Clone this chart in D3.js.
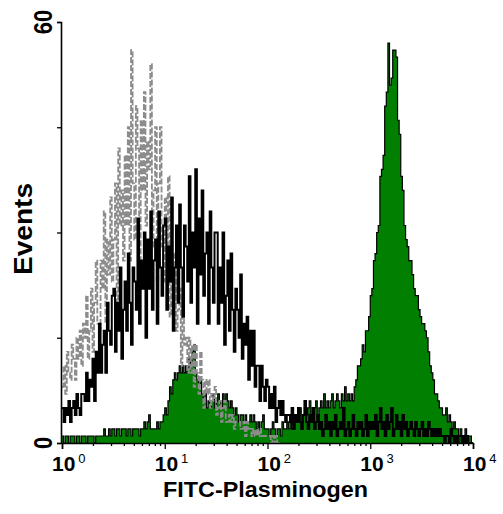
<!DOCTYPE html>
<html>
<head>
<meta charset="utf-8">
<script src="https://cdn.jsdelivr.net/npm/d3@7"></script>
<style>
  html, body { margin: 0; padding: 0; background: #fff; }
  svg { display: block; }
  text { font-family: Arial, "Liberation Sans", Helvetica, sans-serif; }
</style>
</head>
<body>
<svg id="chart" width="503" height="514"></svg>
<script>
// ---- data (counts per channel, 64 channels per decade, 10^0 .. 10^4) ----
const channelsPerDecade = 64;
const decadeTicks = [1, 10, 100, 1000, 10000];
const decadeExponents = ["0", "1", "2", "3", "4"];
const yTickValues = [0, 15, 30, 45, 60];
const yTickLabels = ["0", "", "", "", "60"];
const xAxisTitle = "FITC-Plasminogen";
const yAxisTitle = "Events";

// isotype control (grey dashed)
const isotypeCounts = [
  8,11,7,13,10,9,14,12,9,15,
  12,16,11,17,15,21,12,16,22,13,
  20,26,17,16,26,22,33,17,29,24,
  35,23,29,37,20,42,31,36,26,41,
  31,45,26,56,37,29,48,42,25,46,
  36,50,31,43,39,54,28,36,45,23,
  37,45,28,23,35,27,38,18,27,21,
  27,16,19,22,11,21,14,15,10,15,
  10,14,8,14,10,7,13,9,5,9,
  7,9,5,7,6,8,4,5,6,3,
  5,6,3,3,4,3,4,2,3,3,
  3,2,2,3,1,3,2,2,1,2,
  1,2,1,2,1,1,1,1,1,1,
  0,1,0,1,0,0
];

// second sample (black line)
const blackCounts = [
  5,3,5,4,6,3,5,6,4,7,
  5,4,7,7,6,10,6,9,8,12,
  6,13,10,17,10,14,16,10,20,16,
  14,21,22,13,20,16,25,12,19,23,
  16,27,20,14,25,23,19,32,17,26,
  22,30,15,29,22,33,19,26,29,17,
  33,25,21,31,32,19,28,23,35,16,
  25,31,20,34,25,18,31,28,23,38,
  20,30,25,39,17,32,24,36,21,27,
  30,17,33,25,20,30,30,17,25,20,
  30,14,21,26,16,27,19,13,22,19,
  15,24,12,17,14,18,9,16,11,16,
  8,11,11,6,11,8,6,9,8,5,
  7,5,8,3,5,6,4,6,4,3,4,
  4,3,5,2,4,3,5,3,2,4,6,3,2,4,3,5,2,3,4,2,
  3,1,2,4,2,3,1,3,2,4,1,2,3,2,5,1,2,3,1,2,4,2,1,3,2,3,1,2,4,1,3,2,
  3,2,4,1,3,5,2,3,1,4,2,3,5,1,2,4,2,3,1,4,2,3,1,2,3,
  2,1,3,2,1,2,3,1,2,1,3,2,1,2,1,2,1,2,1,
  1,0,1,1,0,2,1,0,1,0,1,1,0,1,0,1,0,0,0
];

// FITC-Plasminogen stained (green filled)
const greenCounts = [
  1,0,1,1,0,1,1,1,0,1,1,0,1,1,1,0,1,1,1,1,0,1,1,1,1,
  1,2,1,1,2,1,2,2,1,2,2,1,2,2,2,1,2,2,1,2,2,2,2,1,2,2,
  3,2,3,4,2,2,
  2,2,3,2,3,3,4,
  5,4,6,8,7,9,10,9,10,11,
  10,11,10,11,10,12,11,13,14,10,
  9,8,9,7,6,7,5,6,5,6,
  7,5,6,7,6,5,7,6,7,6,
  5,6,5,4,5,4,3,4,4,3,
  4,3,3,4,3,4,3,2,3,2,
  3,4,2,2,
  2,1,2,3,2,1,2,2,1,3,2,2,3,
  2,3,2,4,3,3,4,5,3,4,5,4,5,
  6,4,5,5,6,4,5,6,5,7,5,6,5,
  6,7,5,6,7,6,5,7,6,8,6,7,6,
  7,6,8,9,11,11,12,14,13,16,
  16,18,21,22,26,27,30,31,38,39,
  41,48,50,57,51,52,56,56,55,46,
  44,38,36,31,29,28,26,26,24,22,
  21,21,19,18,17,17,16,15,13,11,
  10,9,7,7,6,5,5,4,4,5,
  3,4,3,2,3,2,2,1,2,1,
  1,2,1,1,1,0
];

// ---- drawing ----
const svg = d3.select("#chart");
svg.append("rect").attr("width", 503).attr("height", 514).attr("fill", "#fff");

const x = d3.scaleLog().domain([1, 10000]).range([62, 473]);
const y = d3.scaleLinear().domain([0, 60]).range([443, 22]);

// channel -> lower edge value on the log axis
const edge = i => Math.pow(10, i / channelsPerDecade);
function stepPoints(counts) {
  const pts = counts.map((v, i) => [edge(i), v]);
  pts.push([edge(counts.length), counts[counts.length - 1]]);
  return pts;
}

const area = d3.area()
  .curve(d3.curveStepAfter)
  .x(d => x(d[0])).y0(y(0)).y1(d => y(d[1]));
const line = d3.line()
  .curve(d3.curveStepAfter)
  .x(d => x(d[0])).y(d => y(d[1]));

const plot = svg.append("g");

plot.append("path")
  .datum(stepPoints(greenCounts))
  .attr("d", area)
  .attr("fill", "#007f00");
plot.append("path")
  .datum(stepPoints(greenCounts))
  .attr("d", line)
  .attr("fill", "none")
  .attr("stroke", "#000")
  .attr("stroke-width", 1.2);

plot.append("path")
  .datum(stepPoints(isotypeCounts))
  .attr("d", line)
  .attr("fill", "none")
  .attr("stroke", "#8c8c8c")
  .attr("stroke-width", 1.8)
  .attr("stroke-dasharray", "6,2");

plot.append("path")
  .datum(stepPoints(blackCounts))
  .attr("d", line)
  .attr("fill", "none")
  .attr("stroke", "#000")
  .attr("stroke-width", 2);

// ---- axes ----
const minorTicks = [];
decadeTicks.slice(0, -1).forEach(d => { for (let k = 2; k <= 9; k++) minorTicks.push(d * k); });

const xAxisMajor = d3.axisBottom(x).tickValues(decadeTicks).tickSize(6).tickFormat("");
const xAxisMinor = d3.axisBottom(x).tickValues(minorTicks).tickSize(3).tickFormat("");
const gx = svg.append("g").attr("transform", `translate(0,${y(0)})`);
gx.call(xAxisMajor);
gx.append("g").call(xAxisMinor);
gx.selectAll("path.domain").attr("stroke", "#000").attr("stroke-width", 1.6);
gx.selectAll("line").attr("stroke", "#000").attr("stroke-width", 1.3);
gx.selectAll("g g path.domain").remove();

const yAxis = d3.axisLeft(y).tickValues(yTickValues).tickSize(4).tickSizeOuter(4).tickFormat("");
const gy = svg.append("g").attr("transform", `translate(${x(1) - 1},0)`).call(yAxis);
gy.selectAll("path.domain").attr("stroke", "#000").attr("stroke-width", 1.6);
gy.selectAll("line").attr("stroke", "#000").attr("stroke-width", 1.3);

// x tick labels 10^n
decadeTicks.forEach((d, i) => {
  const t = svg.append("text")
    .attr("x", x(d) - 10)
    .attr("y", 471)
    .attr("font-size", 21)
    .attr("font-weight", "bold")
    .attr("fill", "#000");
  t.append("tspan").text("10");
  t.append("tspan")
    .attr("dx", 3).attr("dy", -8)
    .attr("font-size", 13)
    .attr("font-weight", "normal")
    .text(decadeExponents[i]);
});

// y tick labels (rotated)
yTickValues.forEach((v, i) => {
  if (!yTickLabels[i]) return;
  svg.append("text")
    .attr("transform", `translate(52,${y(v)}) rotate(-90) scale(1,1.2)`)
    .attr("text-anchor", "middle")
    .attr("font-size", 22)
    .attr("font-weight", "bold")
    .attr("fill", "#000")
    .text(yTickLabels[i]);
});

// axis titles
svg.append("text")
  .attr("x", 265.5).attr("y", 497)
  .attr("text-anchor", "middle")
  .attr("font-size", 22)
  .attr("font-weight", "bold")
  .attr("textLength", 205)
  .attr("lengthAdjust", "spacingAndGlyphs")
  .attr("fill", "#000")
  .text(xAxisTitle);

svg.append("text")
  .attr("transform", "translate(32,229) rotate(-90)")
  .attr("text-anchor", "middle")
  .attr("font-size", 25)
  .attr("font-weight", "bold")
  .attr("textLength", 92)
  .attr("lengthAdjust", "spacingAndGlyphs")
  .attr("fill", "#000")
  .text(yAxisTitle);
</script>
</body>
</html>
